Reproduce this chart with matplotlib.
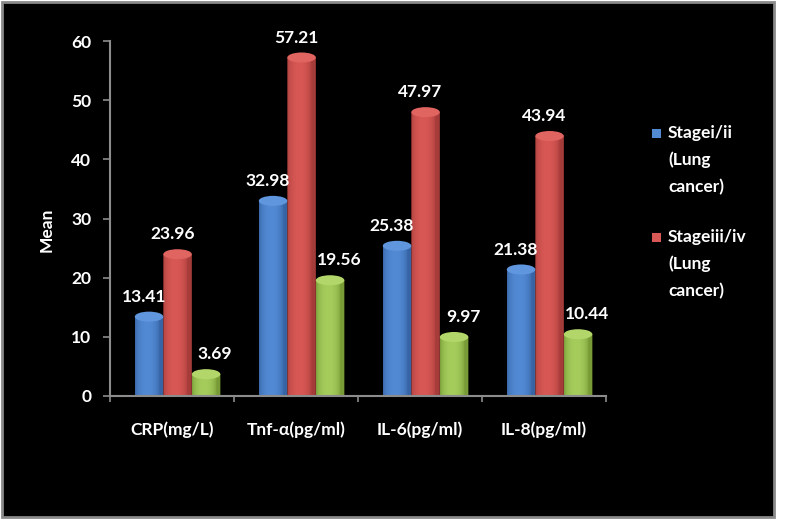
import numpy as np
import matplotlib
matplotlib.use("Agg")
import matplotlib.pyplot as plt
from matplotlib.patches import Ellipse, Rectangle, PathPatch
from matplotlib.path import Path

# ---------------- data ----------------
categories = ['CRP(mg/L)', 'Tnf-α(pg/ml)', 'IL-6(pg/ml)', 'IL-8(pg/ml)']
stage_i_ii = [13.41, 32.98, 25.38, 21.38]
stage_iii_iv = [23.96, 57.21, 47.97, 43.94]
third_series = [3.69, 19.56, 9.97, 10.44]
series_values = [stage_i_ii, stage_iii_iv, third_series]
series_labels = ['Stagei/ii\n(Lung\ncancer)', 'Stageiii/iv\n(Lung\ncancer)', None]
y_ticks = [0, 10, 20, 30, 40, 50, 60]
y_label = 'Mean'

# ---------------- style ----------------
FONT = ['Lato', 'DejaVu Sans']
plt.rcParams['font.family'] = FONT
plt.rcParams['font.weight'] = 'bold'
FS = 12.5
edge_cols = [(55, 100, 165), (165, 60, 58), (120, 155, 55)]
mid_cols = [(82, 138, 212), (216, 88, 85), (165, 205, 92)]
top_cols = [(95, 150, 222), (224, 100, 96), (178, 214, 105)]
label_dx_px = [-5, -5, 9]
AXC = '#8c8c8c'

W, H = 791, 527
fig = plt.figure(figsize=(W / 100, H / 100), dpi=100, facecolor='white')
# black panel with grey border
fig.patches.append(Rectangle((1.5 / W, 1 - 517 / H), 772 / W, 515.5 / H,
                             transform=fig.transFigure, facecolor='black',
                             edgecolor='#8a8a8a', linewidth=2.0, zorder=-10))

ax = fig.add_axes([110 / W, 1 - 396 / H, 496 / W, 355 / H])
ax.patch.set_visible(False)

bar_w = 0.23
offsets = [-0.23, 0.0, 0.23]
shift3d = 0.045
eh = 0.85  # half-height of ellipse in data units

def c01(c):
    return np.array(c) / 255.0

t = np.linspace(0, 1, 64)
wgt = np.clip(np.sin(np.pi * np.clip((t - 0.0) / 0.85, 0, 1)), 0, 1) ** 0.5

for si, vals in enumerate(series_values):
    grad = (c01(edge_cols[si])[None, :] * (1 - wgt[:, None]) +
            c01(mid_cols[si])[None, :] * wgt[:, None])
    img = grad[None, :, :]
    for ci, v in enumerate(vals):
        xc = ci + offsets[si] + shift3d
        x0, x1 = xc - bar_w / 2, xc + bar_w / 2
        # body path: left side, bottom half-ellipse, right side
        ang = np.linspace(np.pi, 2 * np.pi, 30)
        bx = xc + (bar_w / 2) * np.cos(ang)
        by = 0 + eh * np.sin(ang)
        verts = [(x0, v)] + list(zip(bx, by)) + [(x1, v), (x0, v)]
        codes = [Path.MOVETO] + [Path.LINETO] * (len(verts) - 2) + [Path.CLOSEPOLY]
        path = Path(verts, codes)
        patch = PathPatch(path, facecolor='none', edgecolor='none', zorder=2)
        ax.add_patch(patch)
        im = ax.imshow(img, extent=[x0, x1, -eh, v], aspect='auto',
                       interpolation='bilinear', zorder=2)
        im.set_clip_path(patch)
        ax.add_patch(Ellipse((xc, v), bar_w, 2 * eh,
                             facecolor=c01(top_cols[si]), edgecolor='none', zorder=2.1))
        ax.annotate(f'{v:.2f}', xy=(xc, v),
                    xytext=(label_dx_px[si] * 0.72, 14.4), textcoords='offset points',
                    ha='center', va='center', color='white', fontsize=FS,
                    fontweight='bold', family=FONT, zorder=5)

ax.set_xlim(-0.5, len(categories) - 0.5)
ax.set_ylim(0, 60)
ax.set_yticks(y_ticks)
ax.set_xticks(range(len(categories)))
ax.set_xticklabels(categories)
ax.set_xticks(np.arange(-0.5, len(categories), 1.0), minor=True)

for s in ['top', 'right']:
    ax.spines[s].set_visible(False)
for s in ['left', 'bottom']:
    ax.spines[s].set_color(AXC)
    ax.spines[s].set_linewidth(1.5)
    ax.spines[s].set_zorder(3)

ax.tick_params(axis='y', direction='out', length=5, width=1.2, color=AXC,
               pad=8.5, labelcolor='white', labelsize=FS)
ax.tick_params(axis='x', which='major', length=0, pad=18,
               labelcolor='white', labelsize=FS)
ax.tick_params(axis='x', which='minor', direction='out', length=4, width=1.2, color=AXC)
for lbl in ax.get_xticklabels() + ax.get_yticklabels():
    lbl.set_fontweight('bold')

ax.set_ylabel(y_label, color='white', fontsize=FS, fontweight='bold', va='center')
ax.yaxis.set_label_coords((47 - 110) / 496, (396 - 230) / 355)

# legend (only visible entries)
ly0 = 133
for si, lab in enumerate(series_labels):
    if lab is None:
        continue
    lines = lab.split('\n')
    ytop = ly0 + si * 104
    fig.patches.append(Rectangle((652 / W, 1 - (ytop + 5) / H), 9 / W, 9 / H,
                                 transform=fig.transFigure,
                                 facecolor=c01(mid_cols[si]), edgecolor='none'))
    for li, line in enumerate(lines):
        fig.text(668 / W, 1 - (ytop + li * 27) / H, line, color='white',
                 fontsize=FS, fontweight='bold', ha='left', va='center', family=FONT)

fig.savefig('out.png', dpi=100, facecolor='white')
